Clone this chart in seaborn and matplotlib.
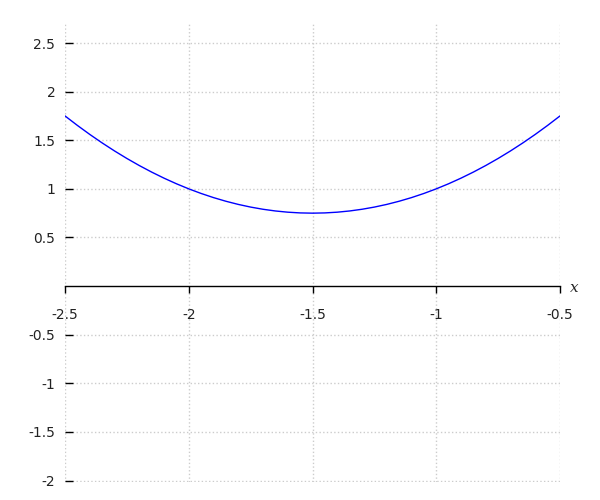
import numpy as np
import pandas as pd
import matplotlib
matplotlib.use('Agg')
import matplotlib.pyplot as plt
import seaborn as sns

# values
x_vals = [-2.5, -2.45, -2.4, -2.35, -2.3, -2.25, -2.2, -2.15, -2.1, -2.05, -2.0,
          -1.95, -1.9, -1.85, -1.8, -1.75, -1.7, -1.65, -1.6, -1.55, -1.5,
          -1.45, -1.4, -1.35, -1.3, -1.25, -1.2, -1.15, -1.1, -1.05, -1.0,
          -0.95, -0.9, -0.85, -0.8, -0.75, -0.7, -0.65, -0.6, -0.55, -0.5]
y_vals = [1.75, 1.6525, 1.56, 1.4725, 1.39, 1.3125, 1.24, 1.1725, 1.11, 1.0525, 1.0,
          0.9525, 0.91, 0.8725, 0.84, 0.8125, 0.79, 0.7725, 0.76, 0.7525, 0.75,
          0.7525, 0.76, 0.7725, 0.79, 0.8125, 0.84, 0.8725, 0.91, 0.9525, 1.0,
          1.0525, 1.11, 1.1725, 1.24, 1.3125, 1.39, 1.4725, 1.56, 1.6525, 1.75]
x_ticks = [-2.5, -2, -1.5, -1, -0.5]
x_ticklabels = ['-2.5', '-2', '-1.5', '-1', '-0.5']
y_ticks = [-2, -1.5, -1, -0.5, 0.5, 1, 1.5, 2, 2.5]
y_ticklabels = ['-2', '-1.5', '-1', '-0.5', '0.5', '1', '1.5', '2', '2.5']

df = pd.DataFrame({'x': x_vals, 'y': y_vals})

sns.set_style('white')
fig = plt.figure(figsize=(6, 5), dpi=100)
ax = fig.add_axes([65 / 600, 1 - 482 / 500, 495 / 600, 460 / 500])

sns.lineplot(data=df, x='x', y='y', ax=ax, color='blue', linewidth=1)

ax.set_xlim(-2.5, -0.5)
ax.set_ylim(-2.015, 2.716)

ax.set_xticks(x_ticks)
ax.set_xticklabels(x_ticklabels)
ax.set_yticks(y_ticks)
ax.set_yticklabels(y_ticklabels)

for side in ['top', 'right', 'left']:
    ax.spines[side].set_visible(False)
ax.spines['bottom'].set_position(('data', 0))
ax.spines['bottom'].set_color('black')
ax.spines['bottom'].set_linewidth(1)

ax.tick_params(axis='x', direction='out', length=5, width=1, color='black',
               labelsize=10, labelcolor='#222222', pad=10.5, bottom=True)
ax.tick_params(axis='y', direction='in', length=6, width=1, color='black',
               labelsize=10, labelcolor='#222222', pad=7, left=True)

ax.grid(True, linestyle=':', color='#cccccc', linewidth=1)
ax.set_axisbelow(True)

ax.set_xlabel('')
ax.set_ylabel('')
ax.text(1.021, -0.02, 'x', transform=ax.get_yaxis_transform(), family='serif',
        style='italic', fontsize=11, va='center', ha='left')

fig.savefig('out.png', dpi=100)
